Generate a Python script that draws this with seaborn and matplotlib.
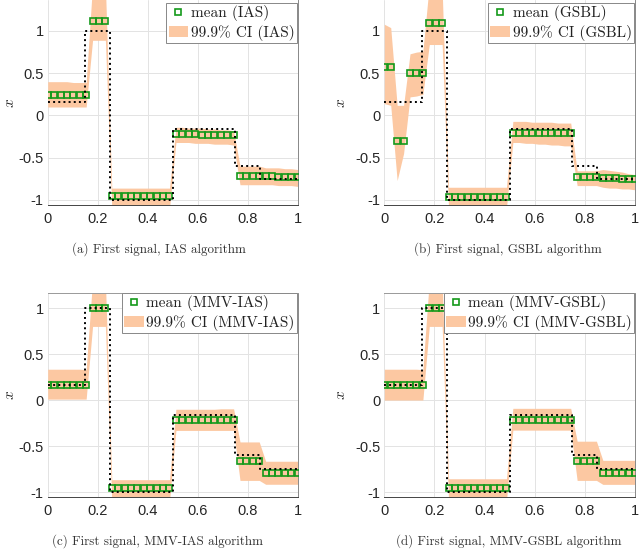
import numpy as np
import matplotlib
matplotlib.use('Agg')
import matplotlib.pyplot as plt
import seaborn as sns
from matplotlib.lines import Line2D
from matplotlib.patches import Patch

# ---------------- data ----------------
x_grid = np.linspace(0, 1, 40)

truth_x = [0.0, 0.15, 0.25, 0.5, 0.75, 0.85, 1.0]
truth_y = [0.16, 1.0, -1.0, -0.16, -0.6, -0.75, -0.75]

ias_mean = [0.24, 0.24, 0.24, 0.24, 0.24, 0.24, 0.24,
            1.12, 1.12, 1.12,
            -0.95, -0.95, -0.95, -0.95, -0.95, -0.95, -0.95, -0.95, -0.95, -0.95,
            -0.22, -0.22, -0.22, -0.22, -0.23, -0.23, -0.23, -0.23, -0.23, -0.23,
            -0.72, -0.72, -0.72, -0.72,
            -0.72, -0.72, -0.73, -0.73, -0.73, -0.73]
ias_upper = [0.40, 0.40, 0.40, 0.40, 0.39, 0.39, 0.39,
             1.55, 1.60, 1.55,
             -0.86, -0.86, -0.86, -0.86, -0.86, -0.86, -0.86, -0.86, -0.86, -0.86,
             -0.14, -0.14, -0.15, -0.15, -0.15, -0.16, -0.16, -0.17, -0.17, -0.18,
             -0.60, -0.60, -0.60, -0.60,
             -0.62, -0.62, -0.62, -0.63, -0.63, -0.64]
ias_lower = [0.10, 0.10, 0.10, 0.10, 0.10, 0.10, 0.10,
             0.89, 0.89, 0.89,
             -1.10, -1.10, -1.10, -1.10, -1.10, -1.10, -1.10, -1.10, -1.10, -1.10,
             -0.32, -0.32, -0.32, -0.33, -0.33, -0.33, -0.34, -0.34, -0.34, -0.35,
             -0.82, -0.82, -0.82, -0.82,
             -0.82, -0.82, -0.83, -0.83, -0.83, -0.84]

gsbl_mean = [0.575, 0.575, -0.30, -0.30, 0.50, 0.50, 0.50,
             1.09, 1.09, 1.09,
             -0.96, -0.96, -0.96, -0.96, -0.96, -0.96, -0.96, -0.96, -0.96, -0.96,
             -0.21, -0.21, -0.21, -0.21, -0.21, -0.21, -0.21, -0.21, -0.21, -0.21,
             -0.73, -0.73, -0.73, -0.73,
             -0.735, -0.74, -0.745, -0.75, -0.75, -0.755]
gsbl_upper = [1.08, 1.04, 0.12, 0.12, 0.73, 0.75, 0.76,
              1.55, 1.60, 1.50,
              -0.85, -0.85, -0.85, -0.85, -0.85, -0.85, -0.85, -0.85, -0.85, -0.85,
              -0.07, -0.07, -0.07, -0.08, -0.08, -0.08, -0.08, -0.09, -0.09, -0.09,
              -0.655, -0.655, -0.655, -0.655,
              -0.64, -0.65, -0.66, -0.67, -0.69, -0.70]
gsbl_lower = [0.14, 0.12, -0.77, -0.45, 0.22, 0.23, 0.25,
              0.84, 0.84, 0.84,
              -1.10, -1.10, -1.10, -1.10, -1.10, -1.10, -1.10, -1.10, -1.10, -1.10,
              -0.32, -0.32, -0.33, -0.33, -0.34, -0.34, -0.35, -0.35, -0.36, -0.36,
              -0.83, -0.83, -0.83, -0.83,
              -0.85, -0.86, -0.86, -0.87, -0.87, -0.88]

mmvias_mean = [0.164, 0.164, 0.164, 0.164, 0.164, 0.164, 0.164,
               1.0, 1.0, 1.0,
               -0.955, -0.955, -0.955, -0.955, -0.955, -0.955, -0.955, -0.955, -0.955, -0.955,
               -0.218, -0.218, -0.218, -0.218, -0.218, -0.218, -0.218, -0.218, -0.218, -0.218,
               -0.665, -0.665, -0.665, -0.665,
               -0.79, -0.79, -0.79, -0.79, -0.79, -0.79]
mmvias_upper = [0.335, 0.335, 0.335, 0.335, 0.335, 0.335, 0.33,
                1.30, 1.30, 1.30,
                -0.865, -0.865, -0.865, -0.865, -0.865, -0.865, -0.865, -0.865, -0.865, -0.865,
                -0.10, -0.10, -0.10, -0.10, -0.10, -0.10, -0.10, -0.095, -0.095, -0.095,
                -0.455, -0.455, -0.455, -0.455,
                -0.665, -0.665, -0.665, -0.665, -0.665, -0.665]
mmvias_lower = [0.01, 0.01, 0.01, 0.01, 0.01, 0.01, 0.01,
                0.80, 0.80, 0.80,
                -1.10, -1.10, -1.10, -1.10, -1.10, -1.10, -1.10, -1.10, -1.10, -1.10,
                -0.33, -0.33, -0.33, -0.33, -0.33, -0.33, -0.33, -0.33, -0.33, -0.33,
                -0.873, -0.873, -0.873, -0.873,
                -0.915, -0.915, -0.915, -0.915, -0.915, -0.915]

mmvgsbl_mean = [0.164, 0.164, 0.164, 0.164, 0.164, 0.164, 0.164,
                1.0, 1.0, 1.0,
                -0.955, -0.955, -0.955, -0.955, -0.955, -0.955, -0.955, -0.955, -0.955, -0.955,
                -0.218, -0.218, -0.218, -0.218, -0.218, -0.218, -0.218, -0.218, -0.218, -0.218,
                -0.658, -0.658, -0.658, -0.658,
                -0.793, -0.793, -0.793, -0.793, -0.793, -0.793]
mmvgsbl_upper = [0.335, 0.335, 0.335, 0.335, 0.335, 0.335, 0.33,
                 1.30, 1.30, 1.30,
                 -0.855, -0.855, -0.855, -0.855, -0.855, -0.855, -0.855, -0.855, -0.855, -0.855,
                 -0.09, -0.09, -0.09, -0.09, -0.09, -0.09, -0.09, -0.09, -0.09, -0.09,
                 -0.447, -0.447, -0.447, -0.447,
                 -0.655, -0.655, -0.655, -0.655, -0.655, -0.655]
mmvgsbl_lower = [0.0, 0.0, 0.0, 0.0, 0.0, 0.0, 0.0,
                 0.80, 0.80, 0.80,
                 -1.10, -1.10, -1.10, -1.10, -1.10, -1.10, -1.10, -1.10, -1.10, -1.10,
                 -0.327, -0.327, -0.327, -0.327, -0.327, -0.327, -0.327, -0.327, -0.327, -0.327,
                 -0.873, -0.873, -0.873, -0.873,
                 -0.916, -0.916, -0.916, -0.916, -0.916, -0.916]

method_names = ['IAS', 'GSBL', 'MMV-IAS', 'MMV-GSBL']
panel_letters = ['(a)', '(b)', '(c)', '(d)']
xtick_vals = [0, 0.2, 0.4, 0.6, 0.8, 1.0]
xtick_labels = ['0', '0.2', '0.4', '0.6', '0.8', '1']
ytick_vals = [-1, -0.5, 0, 0.5, 1]
ytick_labels = ['-1', '-0.5', '0', '0.5', '1']

means = [ias_mean, gsbl_mean, mmvias_mean, mmvgsbl_mean]
uppers = [ias_upper, gsbl_upper, mmvias_upper, mmvgsbl_upper]
lowers = [ias_lower, gsbl_lower, mmvias_lower, mmvgsbl_lower]

# ---------------- style ----------------
sns.set_style('white')
plt.rcParams['font.family'] = ['Liberation Sans', 'DejaVu Sans']
plt.rcParams['mathtext.fontset'] = 'cm'
plt.rcParams['axes.unicode_minus'] = False

GREEN = '#14991a'
ORANGE = '#fcc8a2'
TICKC = '#262626'
MS = 4.9
MEW = 1.2

W, H = 640, 549
fig = plt.figure(figsize=(W / 100, H / 100), dpi=100)

def box(l, t, r, b):
    return [l / W, 1 - b / H, (r - l) / W, (b - t) / H]

rects = [box(47.7, 0, 297.7, 205), box(384.3, 0, 635, 205),
         box(47.7, 293, 297.7, 496.7), box(384.3, 293, 635, 496.7)]
ylims = [(-1.06, 1.367), (-1.06, 1.367), (-1.05, 1.163), (-1.05, 1.163)]
cap_pos = [(159, 249), (508, 249), (157, 541), (509, 541)]
ylab_x = [-0.123, -0.145, -0.123, -0.145]

for i in range(4):
    ax = fig.add_axes(rects[i])
    ax.set_axisbelow(True)
    ax.grid(True, color='#e3e3e3', linewidth=0.7)
    ax.fill_between(x_grid, lowers[i], uppers[i], color=ORANGE, linewidth=0, zorder=1)
    sns.lineplot(x=x_grid, y=means[i], ax=ax, estimator=None, sort=False,
                 marker='s', linestyle='', color=GREEN, markerfacecolor='none',
                 markeredgecolor=GREEN, markersize=MS, markeredgewidth=MEW, zorder=3)
    sns.lineplot(x=truth_x, y=truth_y, ax=ax, estimator=None, sort=False,
                 drawstyle='steps-post', color='black', linestyle=':',
                 linewidth=1.4, zorder=4)
    ax.set_xlim(0, 1)
    ax.set_ylim(*ylims[i])
    ax.set_xticks(xtick_vals)
    ax.set_xticklabels(xtick_labels)
    ax.set_yticks(ytick_vals)
    ax.set_yticklabels(ytick_labels)
    ax.tick_params(axis='both', direction='in', length=3, width=0.6, color='#555555',
                   labelsize=10.5, labelcolor=TICKC)
    ax.tick_params(axis='x', pad=5)
    ax.tick_params(axis='y', pad=3)
    ax.set_xlabel('')
    ax.set_ylabel('$x$', fontsize=11, color=TICKC)
    ax.yaxis.set_label_coords(ylab_x[i], 0.5)
    ax.spines['left'].set_visible(False)
    ax.spines['bottom'].set_color('#444444')
    ax.spines['bottom'].set_linewidth(0.7)
    ax.spines['right'].set_color('#888888')
    ax.spines['right'].set_linewidth(0.7)
    if i < 2:
        ax.spines['top'].set_visible(False)
        anchor = (0.996, 1 - 2.7 / 205)
    else:
        ax.spines['top'].set_color('#999999')
        ax.spines['top'].set_linewidth(0.7)
        anchor = (0.996, 1.0)
    handles = [Line2D([], [], marker='s', linestyle='', markerfacecolor='none',
                      markeredgecolor=GREEN, markersize=MS, markeredgewidth=MEW),
               Patch(facecolor=ORANGE, edgecolor='none')]
    labels = ['mean (' + method_names[i] + ')', '99.9% CI (' + method_names[i] + ')']
    leg = ax.legend(handles, labels, loc='upper right', bbox_to_anchor=anchor,
                    borderaxespad=0, frameon=True, fancybox=False, framealpha=1,
                    edgecolor='#888888', handlelength=1.3, handletextpad=0.15,
                    borderpad=0.15, labelspacing=0.25,
                    prop={'family': 'cmr10', 'size': 11})
    leg.get_frame().set_linewidth(0.7)
    for t in leg.get_texts():
        t.set_color('#222222')
    fig.text(cap_pos[i][0] / W, 1 - cap_pos[i][1] / H,
             panel_letters[i] + ' First signal, ' + method_names[i] + ' algorithm',
             ha='center', va='center', family='cmr10', fontsize=9.4, color='#333333')

fig.savefig('out.png', dpi=100, facecolor='white')
